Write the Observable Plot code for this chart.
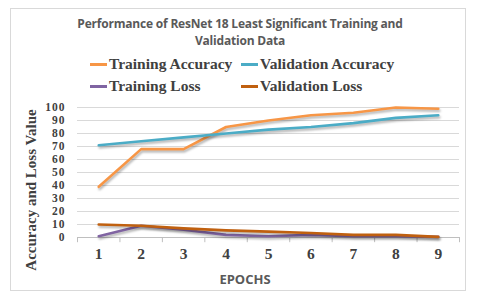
<!DOCTYPE html>
<html><head><meta charset="utf-8">
<script src="https://cdn.jsdelivr.net/npm/d3@7"></script>
<script src="https://cdn.jsdelivr.net/npm/@observablehq/plot@0.6"></script>
<style>
body{margin:0;background:#fff;}
#wrap{position:relative;width:480px;height:304px;overflow:hidden;}
#frame{position:absolute;left:10px;top:8px;width:456px;height:283px;border:1px solid #d9d9d9;box-sizing:border-box;}
.t{position:absolute;white-space:nowrap;}
#title{left:0;width:480px;top:15px;text-align:center;font:bold 12px "Open Sans",sans-serif;color:#595959;line-height:17px;letter-spacing:-0.2px;}
.leg{position:absolute;font:bold 15.5px "Liberation Serif",serif;color:#404040;display:flex;align-items:center;height:20px;}
.sw{display:inline-block;width:17px;height:3px;margin-right:2px;}
#ylab{left:31px;top:190px;transform:translate(-50%,-50%) rotate(-90deg);font:bold 15px "Liberation Serif",serif;color:#404040;}
#xlab{left:0;width:490px;text-align:center;top:270px;font:bold 13px "Open Sans",sans-serif;color:#595959;}
#chart{position:absolute;left:0;top:0;}
#chart g[aria-label=line] path{filter:drop-shadow(1px 2px 1px rgba(0,0,0,0.3));}
</style></head>
<body>
<div id="wrap">
<div id="frame"></div>
<div id="chart"></div>
<div class="t" id="title">Performance of ResNet 18 Least Significant Training and<br>Validation Data</div>
<div id="legend"></div>
<div class="t" id="ylab">Accuracy and Loss Value</div>
<div class="t" id="xlab">EPOCHS</div>
</div>
<script>
const epochs = [1,2,3,4,5,6,7,8,9];
const trainingAccuracy = [39,68,68,85,90,94,96,100,99];
const validationAccuracy = [71,74,77,80,83,85,88,92,94];
const trainingLoss = [1,9,6,2,1,2,1,1,0.5];
const validationLoss = [10,9,7,5.5,4.5,3.5,2,2,0.5];
const yTicks = [0,10,20,30,40,50,60,70,80,90,100];
const seriesNames = ["Training Accuracy","Validation Accuracy","Training Loss","Validation Loss"];
const seriesColors = ["#f79646","#4bacc6","#8064a2","#c0600f"];
const seriesValues = [trainingAccuracy,validationAccuracy,trainingLoss,validationLoss];

const rows = [];
seriesNames.forEach((s,i)=>epochs.forEach((e,j)=>rows.push({series:s,epoch:e,value:seriesValues[i][j]})));
const bounds = [epochs[0]-0.5, ...epochs.map(e=>e+0.5)];

const chart = Plot.plot({
  width:480, height:304,
  marginTop:107, marginBottom:67, marginLeft:77, marginRight:21,
  x:{type:"linear", domain:[epochs[0]-0.5, epochs[epochs.length-1]+0.5], axis:null},
  y:{domain:[0,100], axis:null},
  color:{domain:seriesNames, range:seriesColors},
  marks:[
    Plot.ruleY(yTicks.slice(1), {stroke:"#d9d9d9", strokeWidth:1}),
    Plot.ruleY([0], {stroke:"#bfbfbf", strokeWidth:1}),
    Plot.ruleX(bounds, {y1:0, y2:-4, stroke:"#bfbfbf"}),
    Plot.text(yTicks, {x:epochs[0]-0.5, y:d=>d, text:d=>String(d), textAnchor:"end", dx:-12, fontSize:11.5, fontWeight:"bold", fontFamily:"Liberation Serif", fill:"#404040", style:"letter-spacing:0.9px"}),
    Plot.text(epochs, {x:d=>d, y:0, text:d=>String(d), dy:17, fontSize:15.5, fontWeight:"bold", fontFamily:"Liberation Serif", fill:"#404040"}),
    Plot.line(rows, {x:"epoch", y:"value", z:"series", stroke:"series", strokeWidth:2.6})
  ]
});
document.getElementById("chart").appendChild(chart);
chart.querySelectorAll("g[aria-label=text]")[0].querySelectorAll("text").forEach(t=>t.style.letterSpacing="1px");

const legPos = [[90,54],[241,54],[90,76],[241,76]];
const leg = document.getElementById("legend");
seriesNames.forEach((s,i)=>{
  const d=document.createElement("div");
  d.className="leg";
  d.style.left=legPos[i][0]+"px"; d.style.top=legPos[i][1]+"px";
  d.innerHTML=`<span class="sw" style="background:${seriesColors[i]}"></span>${s}`;
  leg.appendChild(d);
});
</script>
</body></html>
